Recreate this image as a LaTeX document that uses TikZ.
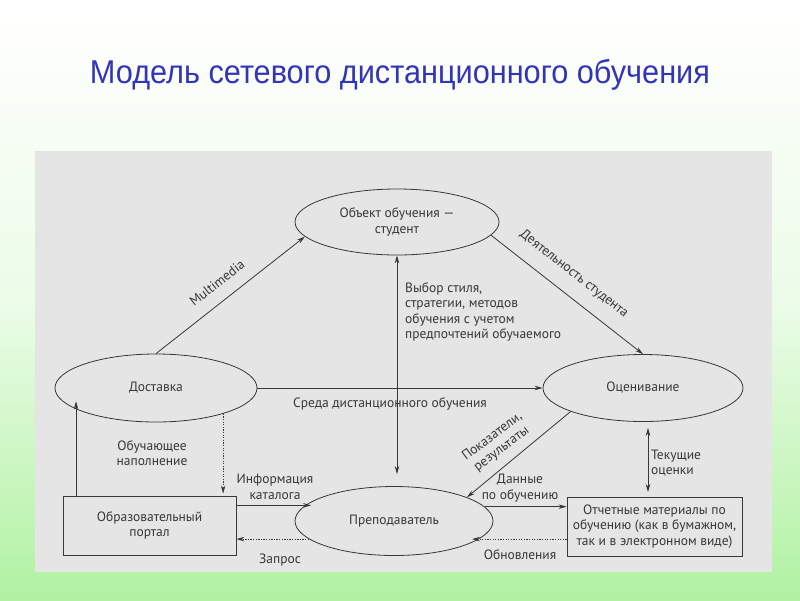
\documentclass[tikz,border=0pt]{standalone}
\usepackage{fontspec}
\setmainfont{PT Sans}
\newfontfamily\titlefont{Liberation Sans}
\usetikzlibrary{shapes.geometric,arrows.meta}
\definecolor{ink}{RGB}{55,55,55}
\definecolor{titleblue}{RGB}{52,52,185}
\definecolor{panel}{RGB}{229,229,229}
\definecolor{greenbot}{RGB}{176,242,162}
\tikzset{
  ell/.style={ellipse, draw=ink, line width=0.8pt, inner sep=0pt, text=ink, align=center},
  boxn/.style={rectangle, draw=ink, line width=0.8pt, inner sep=0pt, text=ink, align=center},
  lbl/.style={text=ink, align=center, inner sep=0pt},
  arr/.style={draw=ink, line width=0.8pt, -{Stealth[length=8pt,width=4.5pt]}},
  arrtwo/.style={draw=ink, line width=0.8pt, {Stealth[length=8pt,width=4.5pt]}-{Stealth[length=8pt,width=4.5pt]}},
  dotarr/.style={draw=ink, line width=0.8pt, dash pattern=on 1.3pt off 1.3pt, -{Stealth[length=8pt,width=4.5pt]}}
}
\begin{document}
\begin{tikzpicture}[x=1pt,y=-1pt, font=\fontsize{13.5}{15.5}\selectfont]
\useasboundingbox (0,0) rectangle (800,600);
\shade[top color=white, bottom color=greenbot, middle color={rgb,255:red,236;green,252;blue,232}] (0,0) rectangle (800,600);
\fill[panel] (35,151) rectangle (772,572);
\node[text=titleblue, font=\titlefont\fontsize{33}{36}\selectfont, xscale=0.93] (title) at (400,75) {Модель сетевого дистанционного обучения};

% nodes
\node[ell, minimum width=204pt, minimum height=66pt] (obj) at (397,222) {Объект обучения —\\студент};
\node[ell, minimum width=202pt, minimum height=68pt] (deliv) at (156,388) {Доставка};
\node[ell, minimum width=200pt, minimum height=67pt] (ocen) at (643,388) {Оценивание};
\node[ell, minimum width=198pt, minimum height=69pt] (teach) at (394,521) {Преподаватель};
\node[boxn, minimum width=173pt, minimum height=59pt] (portal) at (149.5,525.5) {Образовательный\\портал};
\node[boxn, minimum width=175pt, minimum height=59pt] (rep) at (654.5,526.5) {Отчетные материалы по\\обучению (как в бумажном,\\так и в электронном виде)};

\coordinate (lu) at (76,496);
\coordinate (tc) at (648,497);

% connectors
\draw[arr] (deliv.north) -- (obj.189);
\draw[arr] (obj.-8) -- (ocen.north);
\draw[arrtwo, shorten >=12pt] (obj.south) -- (obj.south |- teach.north);
\draw[arr] (deliv.east) -- (ocen.west);
\draw[arr] (ocen.198) -- (teach.18);
\draw[arr] (teach.9.5) -- (teach.9.5 -| rep.west);
\draw[dotarr, shorten >=-7pt] (rep.west |- teach.-12) -- (teach.-12);
\draw[arr, shorten >=-6pt] (portal.east |- teach.170.5) -- (teach.170.5);
\draw[dotarr] (teach.192) -- (teach.192 -| portal.east);
\draw[arr, shorten >=-8pt] (lu) -- (lu |- deliv.195);
\draw[dotarr, shorten >=2pt] (deliv.-21) -- (deliv.-21 |- portal.north);
\draw[arrtwo, shorten <=6pt, shorten >=5pt] (tc |- ocen.south) -- (tc);

% labels
\node[lbl, rotate=38] (lmm) at (217,283) {Multimedia};
\node[lbl, rotate=-38] (lds) at (574,274) {Деятельность студента};
\node[lbl, align=left, anchor=west] (lvs) at (405,312) {Выбор стиля,\\стратегии, методов\\обучения с учетом\\предпочтений обучаемого};
\node[lbl] (lsr) at (390,404) {Среда дистанционного обучения};
\node[lbl, rotate=37] (lpr) at (497,443) {Показатели,\\результаты};
\node[lbl] (ldn) at (520,488) {Данные\\по обучению};
\node[lbl] (lob) at (520,555) {Обновления};
\node[lbl, align=left, anchor=west] (lto) at (651,463) {Текущие\\оценки};
\node[lbl] (lon) at (152,453) {Обучающее\\наполнение};
\node[lbl] (lik) at (275,487) {Информация\\каталога};
\node[lbl] (lzp) at (280,560) {Запрос};
\end{tikzpicture}
\end{document}
